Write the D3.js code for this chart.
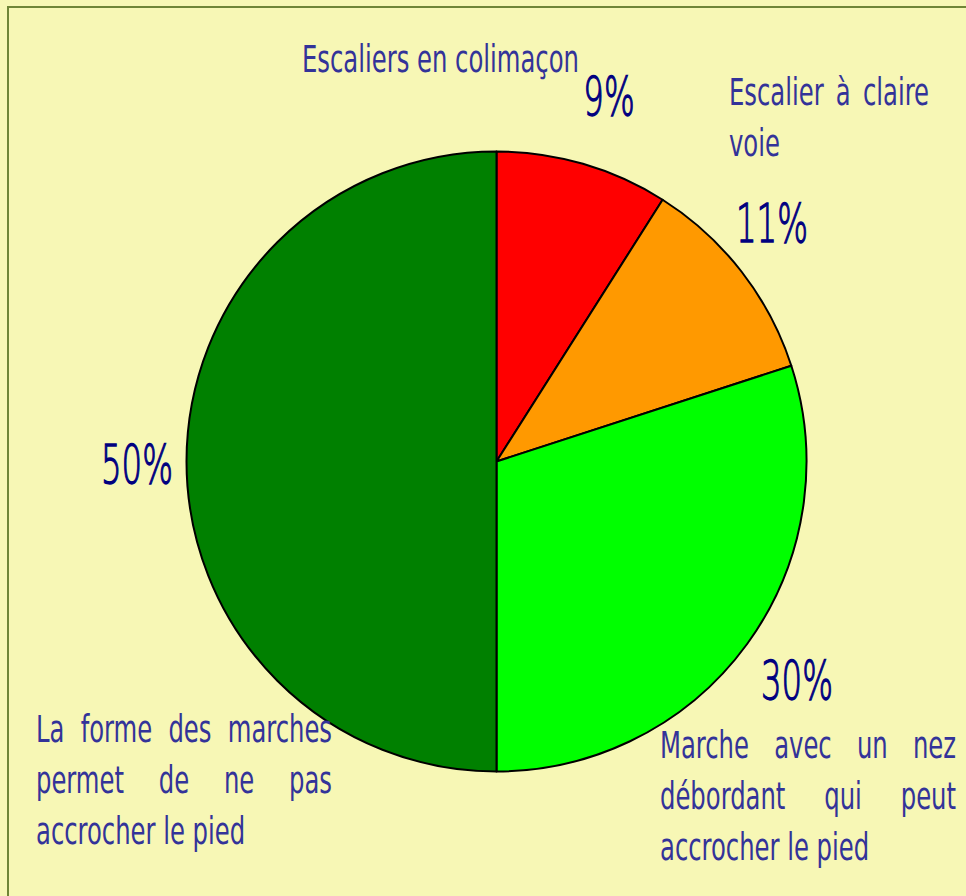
<!DOCTYPE html>
<html>
<head>
<meta charset="utf-8">
<script src="https://cdn.jsdelivr.net/npm/d3@7"></script>
<style>
  body { margin: 0; background: #f7f7b5; }
  svg { display: block; }
  text { font-family: "DejaVu Sans Condensed", "Liberation Sans Narrow", sans-serif; }
  text.pct { font-family: "DejaVu Sans", sans-serif; font-weight: 200; }
</style>
</head>
<body>
<svg id="chart" width="966" height="896"></svg>
<script>
// chart data
const categories = ['Escaliers en colimaçon', 'Escalier à claire voie',
  'Marche avec un nez débordant qui peut accrocher le pied',
  'La forme des marches permet de ne pas accrocher le pied'];
const values = [9, 11, 30, 50];
const colors = ['#ff0000', '#ff9900', '#00ff00', '#008000'];

// where the texts sit (label box: x, first baseline, width, words per line)
const labelBoxes = [
  { x: 302, y: 72, w: 278, split: [3] },
  { x: 729, y: 105, w: 200, split: [3, 1] },
  { x: 660, y: 758, w: 296, split: [4, 3, 3] },
  { x: 36, y: 742, w: 296, split: [4, 4, 3] }
];
const pctPos = [[609, 115], [772, 242], [797, 699], [137, 483]];

const width = 966, height = 896;
const cx = 496.5, cy = 461.5, radius = 310;
const lineGap = 51;
const labelSize = 37, pctSize = 54;
const labelSqueeze = 0.73, pctSqueeze = 0.6;

const svg = d3.select('#chart');

svg.append('rect')
  .attr('width', width).attr('height', height)
  .attr('fill', '#f7f7b5');

// frame (only top and left visible)
svg.append('rect')
  .attr('x', 8).attr('y', 7)
  .attr('width', width + 20).attr('height', height + 20)
  .attr('fill', 'none')
  .attr('stroke', '#6f8537')
  .attr('stroke-width', 2);

const pie = d3.pie().sort(null).value(d => d);
const arc = d3.arc().innerRadius(0).outerRadius(radius);

const g = svg.append('g').attr('transform', `translate(${cx},${cy})`);
g.selectAll('path')
  .data(pie(values))
  .join('path')
  .attr('d', arc)
  .attr('fill', (d, i) => colors[i])
  .attr('stroke', '#000')
  .attr('stroke-width', 2)
  .attr('stroke-linejoin', 'round');

// justified labels
categories.forEach((label, i) => {
  const box = labelBoxes[i];
  const grp = svg.append('g')
    .attr('transform', `translate(${box.x},${box.y}) scale(${labelSqueeze},1)`);
  const w = box.w / labelSqueeze;
  const probe = grp.append('text').attr('font-size', labelSize).attr('opacity', 0);
  const measure = s => { probe.text(s); return probe.node().getComputedTextLength(); };

  const words = label.split(' ');
  let k = 0;
  const lines = box.split.map(n => { const l = words.slice(k, k + n); k += n; return l; });

  lines.forEach((lw, li) => {
    const yy = li * lineGap;
    const last = li === lines.length - 1;
    if (last || lw.length < 2) {
      grp.append('text')
        .attr('x', 0).attr('y', yy)
        .attr('font-size', labelSize)
        .attr('fill', '#333399')
        .text(lw.join(' '));
      return;
    }
    const widths = lw.map(measure);
    const gap = (w - d3.sum(widths)) / (lw.length - 1);
    let xx = 0;
    lw.forEach((word, wi) => {
      grp.append('text')
        .attr('x', xx).attr('y', yy)
        .attr('font-size', labelSize)
        .attr('fill', '#333399')
        .text(word);
      xx += widths[wi] + gap;
    });
  });
  probe.remove();
});

// percentages
values.forEach((v, i) => {
  svg.append('g')
    .attr('transform', `translate(${pctPos[i][0]},${pctPos[i][1]}) scale(${pctSqueeze},1)`)
    .append('text')
    .attr('class', 'pct')
    .attr('text-anchor', 'middle')
    .attr('font-size', pctSize)
    .attr('fill', '#000080')
    .attr('stroke', '#000080')
    .attr('stroke-width', 1.3)
    .text(v + '%');
});
</script>
</body>
</html>
